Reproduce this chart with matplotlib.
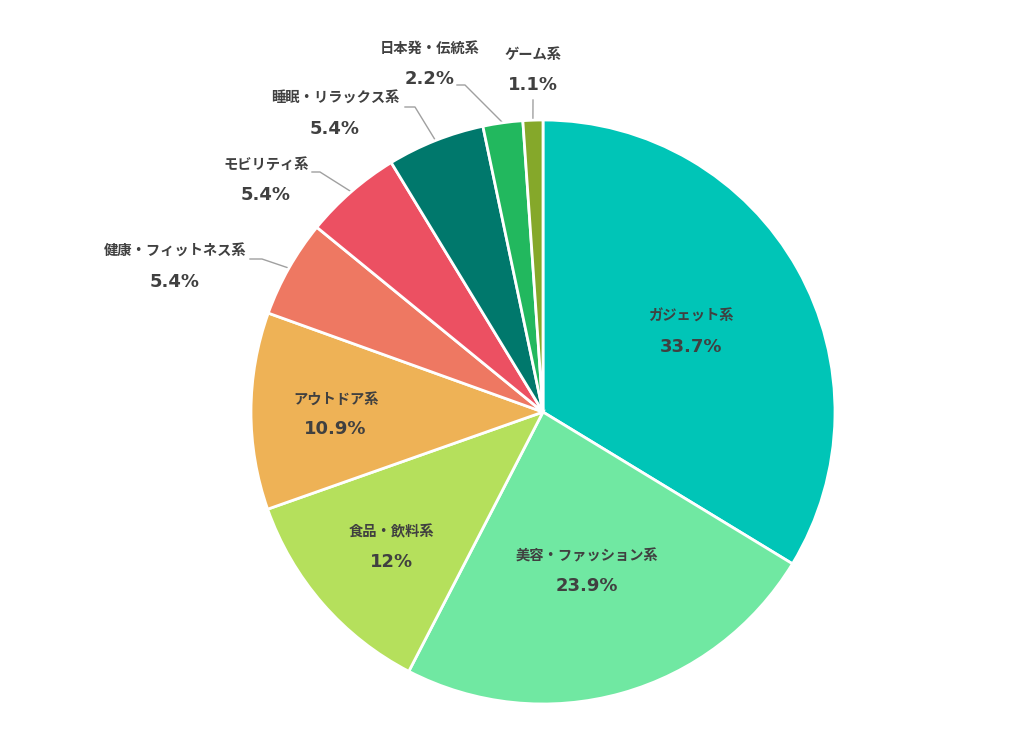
import numpy as np
import matplotlib
matplotlib.use('Agg')
import matplotlib.pyplot as plt

plt.rcParams['font.family'] = ['Noto Sans CJK JP', 'DejaVu Sans']

# --- data ---
categories = ['ガジェット系', '美容・ファッション系', '食品・飲料系', 'アウトドア系',
              '健康・フィットネス系', 'モビリティ系', '睡眠・リラックス系',
              '日本発・伝統系', 'ゲーム系']
shares = [33.7, 23.9, 12.0, 10.9, 5.4, 5.4, 5.4, 2.2, 1.1]
pct_labels = ['33.7%', '23.9%', '12%', '10.9%', '5.4%', '5.4%', '5.4%', '2.2%', '1.1%']
colors = ['#00C5B7', '#70E8A2', '#B5E05C', '#EEB256', '#EE7862',
          '#EC5062', '#00786C', '#22B85E', '#85A82A']

W, H = 1024, 755
CX, CY, R = 543, 412, 292
TXT = '#404040'

# label placement: inside -> radius fraction; outside -> pixel position + leader elbow
inside_r = {0: 0.58, 1: 0.555, 2: 0.69, 3: 0.71}
outside = {
    4: ((175, 267), [(262, 259), (250, 259)]),
    5: ((266, 180), [(320, 172), (312, 172)]),
    6: ((335, 114), [(415, 107), (405, 107)]),
    7: ((430, 64), [(465, 85), (457, 85)]),
    8: ((533, 70), [(533, 100)]),
}

fig = plt.figure(figsize=(W / 100, H / 100), dpi=100)
ax = fig.add_axes([0, 0, 1, 1])

wedges, _ = ax.pie(shares, colors=colors, startangle=90, counterclock=False,
                   center=(CX, H - CY), radius=R, frame=True,
                   wedgeprops=dict(edgecolor='white', linewidth=2))
ax.set_xlim(0, W)
ax.set_ylim(0, H)
ax.set_aspect('equal')
ax.axis('off')


def put_label(x, y, i):
    # x, y in pixel coords (y from top)
    ax.text(x, H - (y - 12), categories[i], ha='center', va='center',
            fontsize=10.3, fontweight='bold', color=TXT)
    ax.text(x, H - (y + 18), pct_labels[i], ha='center', va='center',
            fontsize=13, fontweight='bold', color=TXT, family='DejaVu Sans')


for i, w in enumerate(wedges):
    mid = np.deg2rad((w.theta1 + w.theta2) / 2)
    if i in inside_r:
        r = R * inside_r[i]
        put_label(CX + r * np.cos(mid), CY - r * np.sin(mid), i)
    else:
        (lx, ly), elbow = outside[i]
        put_label(lx, ly - 3, i)
        ex, ey = CX + R * np.cos(mid), CY - R * np.sin(mid)
        pts = [(ex, ey)] + elbow
        ax.plot([p[0] for p in pts], [H - p[1] for p in pts],
                color='#A0A0A0', linewidth=1, zorder=0)

fig.savefig('out.png', dpi=100, facecolor='white')
